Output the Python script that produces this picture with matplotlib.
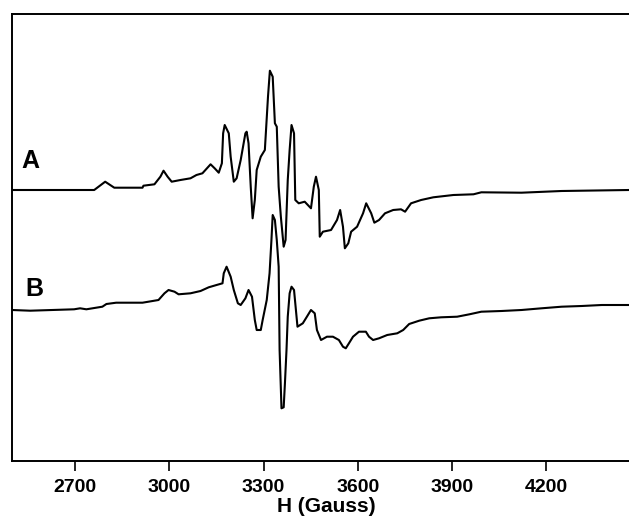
import matplotlib
matplotlib.use("Agg")
import matplotlib.pyplot as plt

# field values (Gauss) and signal (arb. units, relative to each baseline)
field_a = [2498, 2760, 2795, 2824, 2914, 2917, 2952, 2971, 2981, 2994, 3007, 3035, 3067, 3086,
           3105, 3131, 3144, 3157, 3167, 3171, 3176, 3189, 3195, 3205, 3214, 3227, 3242, 3246,
           3252, 3259, 3265, 3272, 3278, 3291, 3304, 3314, 3320, 3329, 3336, 3342, 3348, 3355,
           3364, 3370, 3377, 3383, 3389, 3397, 3401, 3412, 3431, 3451, 3460, 3467, 3476, 3479,
           3489, 3515, 3534, 3544, 3553, 3559, 3570, 3579, 3598, 3617, 3627, 3643, 3653, 3668,
           3687, 3713, 3738, 3751, 3770, 3802, 3841, 3905, 3969, 3994, 4122, 4250, 4465]
signal_a = [0, 0, 8.3, 2.3, 2.3, 4.3, 5.7, 13.3, 19.3, 13.3, 8.3, 10, 11.7, 15,
            16.7, 25.7, 21.7, 17.3, 26.7, 56.7, 65, 56.7, 33.3, 8.3, 11.7, 30, 56.7, 58.3,
            46.7, 3.3, -28.3, -10, 20, 33.3, 40, 93.3, 119.3, 113.3, 66.7, 63.3, 3.3, -26.7,
            -56.7, -50, 10, 40, 65, 56.7, -10, -13.3, -11.7, -18.3, 3.3, 13.3, 0, -46.7,
            -41.7, -40, -30, -20, -36.7, -58.3, -53.3, -41.7, -36.7, -23.3, -13.3, -23.3, -32.7, -30,
            -23.3, -20, -19.3, -21.7, -13.3, -10, -7.3, -5, -4.3, -2.3, -2.7, -1, 0]

field_b = [2498, 2556, 2626, 2696, 2715, 2735, 2786, 2799, 2830, 2914, 2933, 2965, 2984, 2997,
           3016, 3029, 3067, 3099, 3125, 3150, 3169, 3173, 3182, 3195, 3205, 3218, 3227, 3242,
           3252, 3263, 3272, 3278, 3291, 3297, 3310, 3319, 3325, 3329, 3336, 3342, 3348, 3351,
           3357, 3364, 3368, 3373, 3377, 3383, 3389, 3397, 3403, 3408, 3425, 3438, 3451, 3463,
           3470, 3483, 3502, 3521, 3540, 3553, 3562, 3572, 3585, 3604, 3626, 3636, 3649, 3668,
           3694, 3726, 3745, 3764, 3796, 3828, 3866, 3917, 3956, 3994, 4058, 4122, 4186, 4250,
           4314, 4378, 4465]
signal_b = [0, -0.7, 0, 0.7, 1.7, 0.7, 3.3, 6, 7.3, 7.3, 8.3, 10, 16.7, 20,
            18.3, 15.7, 16.7, 19, 22.7, 25, 26.7, 36.7, 43.3, 33.3, 20, 6.7, 5, 11.7,
            20, 13.3, -10, -20, -20, -10, 10, 36.7, 70, 95, 90, 70, 43.3, -40,
            -98.3, -97.3, -73.3, -40, -6.7, 16.7, 23.3, 20, 0, -16.7, -13.3, -6.7, 0, -3.3,
            -20, -30, -26.7, -26.7, -30, -36.7, -38.3, -33.3, -26.7, -21.7, -21.7, -26.7, -30, -28.3,
            -25, -23.3, -20, -14, -10.7, -8.3, -7.3, -6.7, -4.3, -1.7, -1, 0, 1.7, 3.3,
            4, 5, 5]

offset_a = 271
offset_b = 151
ticks = [2700, 3000, 3300, 3600, 3900, 4200]

plt.rcParams['font.family'] = ['Liberation Sans', 'DejaVu Sans']

fig = plt.figure(figsize=(6.29, 5.26), dpi=100)
ax = fig.add_axes([12 / 629, 1 - 461 / 526, 1.0, (461 - 14) / 526])

ax.plot(field_a, [v + offset_a for v in signal_a], color="black", lw=1.5)
ax.plot(field_b, [v + offset_b for v in signal_b], color="black", lw=1.5)

ax.text(2528, offset_a + 29, "A", fontsize=18, fontweight="bold", va="center")
ax.text(2541, offset_b + 21.5, "B", fontsize=18, fontweight="bold", va="center")

ax.set_xlim(2498, 4503)
ax.set_ylim(0, 447)
ax.set_xticks(ticks)
ax.set_xticklabels([str(t) for t in ticks], fontsize=14, fontweight="bold")
ax.set_yticks([])
ax.tick_params(axis="x", direction="out", length=7, width=1.2, pad=6)
ax.set_xlabel("H (Gauss)", fontsize=15, fontweight="bold", labelpad=1)
for s in ax.spines.values():
    s.set_linewidth(1.4)

fig.savefig("out.png", dpi=100)
